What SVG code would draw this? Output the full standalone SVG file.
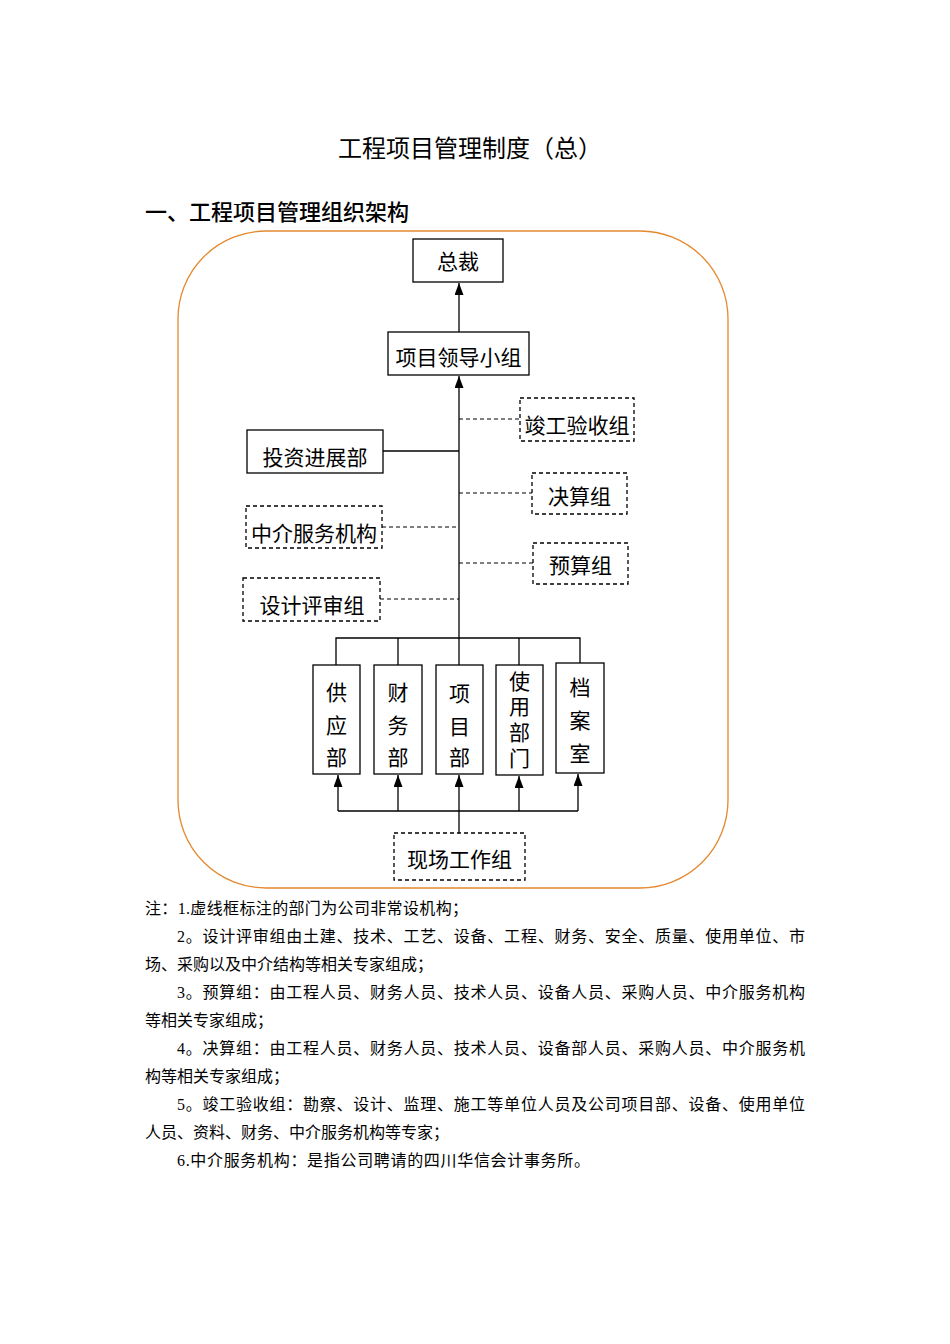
<svg xmlns="http://www.w3.org/2000/svg" width="950" height="1344" viewBox="0 0 950 1344">
<style>
.bg{fill:#fff}
.frame{fill:none;stroke:#E4892F;stroke-width:1.3}
.box{fill:#fff;stroke:#000;stroke-width:1.3}
.dbox{fill:#fff;stroke:#000;stroke-width:1.3;stroke-dasharray:4 3}
.ln{fill:none;stroke:#000;stroke-width:1.3}
.dln{fill:none;stroke:#000;stroke-width:1.2;stroke-dasharray:4 3}
.t{font-family:"Liberation Serif","Noto Sans CJK SC",serif;font-size:21px;fill:#000;text-anchor:middle}
.title{font-family:"Noto Sans CJK SC","Liberation Sans",sans-serif;font-size:24px;fill:#000;text-anchor:middle}
.h{font-family:"Noto Sans CJK SC","Liberation Sans",sans-serif;font-size:22px;font-weight:500;fill:#000}
.n{font-family:"Liberation Serif","Noto Sans CJK SC",serif;font-size:16px;fill:#000}
</style>
<defs>
<marker id="arr" viewBox="0 0 12 9" refX="12" refY="4.5" markerWidth="12" markerHeight="9" markerUnits="userSpaceOnUse" orient="auto">
<path d="M0,0 L12,4.5 L0,9 z" fill="#000"/>
</marker>
</defs>
<rect class="bg" x="0" y="0" width="950" height="1344"/>
<text class="title" x="470" y="157">工程项目管理制度（总）</text>
<text class="h" x="145" y="220">一、工程项目管理组织架构</text>
<rect class="frame" x="178" y="231" width="550" height="657" rx="88" ry="88"/>

<g id="connectors">
<line class="ln" x1="459" y1="332" x2="459" y2="283" marker-end="url(#arr)"/>
<line class="ln" x1="459" y1="638" x2="459" y2="376" marker-end="url(#arr)"/>
<line class="dln" x1="459" y1="419" x2="520" y2="419"/>
<line class="ln" x1="383" y1="451" x2="459" y2="451"/>
<line class="dln" x1="459" y1="493" x2="532" y2="493"/>
<line class="dln" x1="382" y1="527" x2="459" y2="527"/>
<line class="dln" x1="459" y1="563" x2="533" y2="563"/>
<line class="dln" x1="380" y1="599" x2="459" y2="599"/>
<polyline class="ln" points="336,665 336,638 580,638 580,663"/>
<line class="ln" x1="398" y1="638" x2="398" y2="665"/>
<line class="ln" x1="459" y1="638" x2="459" y2="665"/>
<line class="ln" x1="519" y1="638" x2="519" y2="665"/>
<line class="ln" x1="338" y1="811" x2="578" y2="811"/>
<line class="ln" x1="459" y1="833" x2="459" y2="811"/>
<line class="ln" x1="338" y1="811" x2="338" y2="775" marker-end="url(#arr)"/>
<line class="ln" x1="398" y1="811" x2="398" y2="775" marker-end="url(#arr)"/>
<line class="ln" x1="459" y1="811" x2="459" y2="775" marker-end="url(#arr)"/>
<line class="ln" x1="519" y1="811" x2="519" y2="776" marker-end="url(#arr)"/>
<line class="ln" x1="578" y1="811" x2="578" y2="774" marker-end="url(#arr)"/>
</g>

<g id="n-zongcai">
<rect class="box" x="413" y="239" width="90" height="43"/>
<text class="t" x="458" y="269">总裁</text>
</g>
<g id="n-lingdao">
<rect class="box" x="388" y="332" width="141" height="43"/>
<text class="t" x="458.5" y="365">项目领导小组</text>
</g>
<g id="n-jungong">
<rect class="dbox" x="520" y="398" width="114" height="43"/>
<text class="t" x="577" y="433">竣工验收组</text>
</g>
<g id="n-touzi">
<rect class="box" x="247" y="430" width="136" height="43"/>
<text class="t" x="315" y="465">投资进展部</text>
</g>
<g id="n-juesuan">
<rect class="dbox" x="532" y="473" width="95" height="41"/>
<text class="t" x="579.5" y="504">决算组</text>
</g>
<g id="n-zhongjie">
<rect class="dbox" x="246" y="506" width="136" height="42"/>
<text class="t" x="314" y="541">中介服务机构</text>
</g>
<g id="n-yusuan">
<rect class="dbox" x="533" y="543" width="95" height="41"/>
<text class="t" x="580.5" y="573">预算组</text>
</g>
<g id="n-sheji">
<rect class="dbox" x="243" y="578" width="137" height="43"/>
<text class="t" x="312" y="613">设计评审组</text>
</g>
<g id="n-gongying">
<rect class="box" x="313" y="665" width="47" height="109"/>
<text class="t" x="336.5" y="700">供</text>
<text class="t" x="336.5" y="733">应</text>
<text class="t" x="336.5" y="765">部</text>
</g>
<g id="n-caiwu">
<rect class="box" x="374" y="665" width="48" height="109"/>
<text class="t" x="398" y="700">财</text>
<text class="t" x="398" y="733">务</text>
<text class="t" x="398" y="765">部</text>
</g>
<g id="n-xiangmu">
<rect class="box" x="436" y="665" width="47" height="109"/>
<text class="t" x="459.5" y="701">项</text>
<text class="t" x="459.5" y="734">目</text>
<text class="t" x="459.5" y="765">部</text>
</g>
<g id="n-shiyong">
<rect class="box" x="496" y="665" width="47" height="110"/>
<text class="t" x="519.5" y="689">使</text>
<text class="t" x="519.5" y="714">用</text>
<text class="t" x="519.5" y="740">部</text>
<text class="t" x="519.5" y="766">门</text>
</g>
<g id="n-dangan">
<rect class="box" x="556" y="663" width="48" height="110"/>
<text class="t" x="580" y="695">档</text>
<text class="t" x="580" y="728">案</text>
<text class="t" x="580" y="761">室</text>
</g>
<g id="n-xianchang">
<rect class="dbox" x="394" y="833" width="131" height="47"/>
<text class="t" x="459.5" y="867">现场工作组</text>
</g>

<g id="notes">
<text class="n" x="145" y="914" textLength="323" lengthAdjust="spacing">注：1.虚线框标注的部门为公司非常设机构；</text>
<text class="n" x="177" y="942" textLength="628" lengthAdjust="spacing">2。设计评审组由土建、技术、工艺、设备、工程、财务、安全、质量、使用单位、市</text>
<text class="n" x="145" y="970">场、采购以及中介结构等相关专家组成；</text>
<text class="n" x="177" y="998" textLength="628" lengthAdjust="spacing">3。预算组：由工程人员、财务人员、技术人员、设备人员、采购人员、中介服务机构</text>
<text class="n" x="145" y="1026">等相关专家组成；</text>
<text class="n" x="177" y="1054" textLength="628" lengthAdjust="spacing">4。决算组：由工程人员、财务人员、技术人员、设备部人员、采购人员、中介服务机</text>
<text class="n" x="145" y="1082">构等相关专家组成；</text>
<text class="n" x="177" y="1110" textLength="628" lengthAdjust="spacing">5。竣工验收组：勘察、设计、监理、施工等单位人员及公司项目部、设备、使用单位</text>
<text class="n" x="145" y="1138">人员、资料、财务、中介服务机构等专家；</text>
<text class="n" x="177" y="1166" textLength="413" lengthAdjust="spacing">6.中介服务机构：是指公司聘请的四川华信会计事务所。</text>
</g>
</svg>
